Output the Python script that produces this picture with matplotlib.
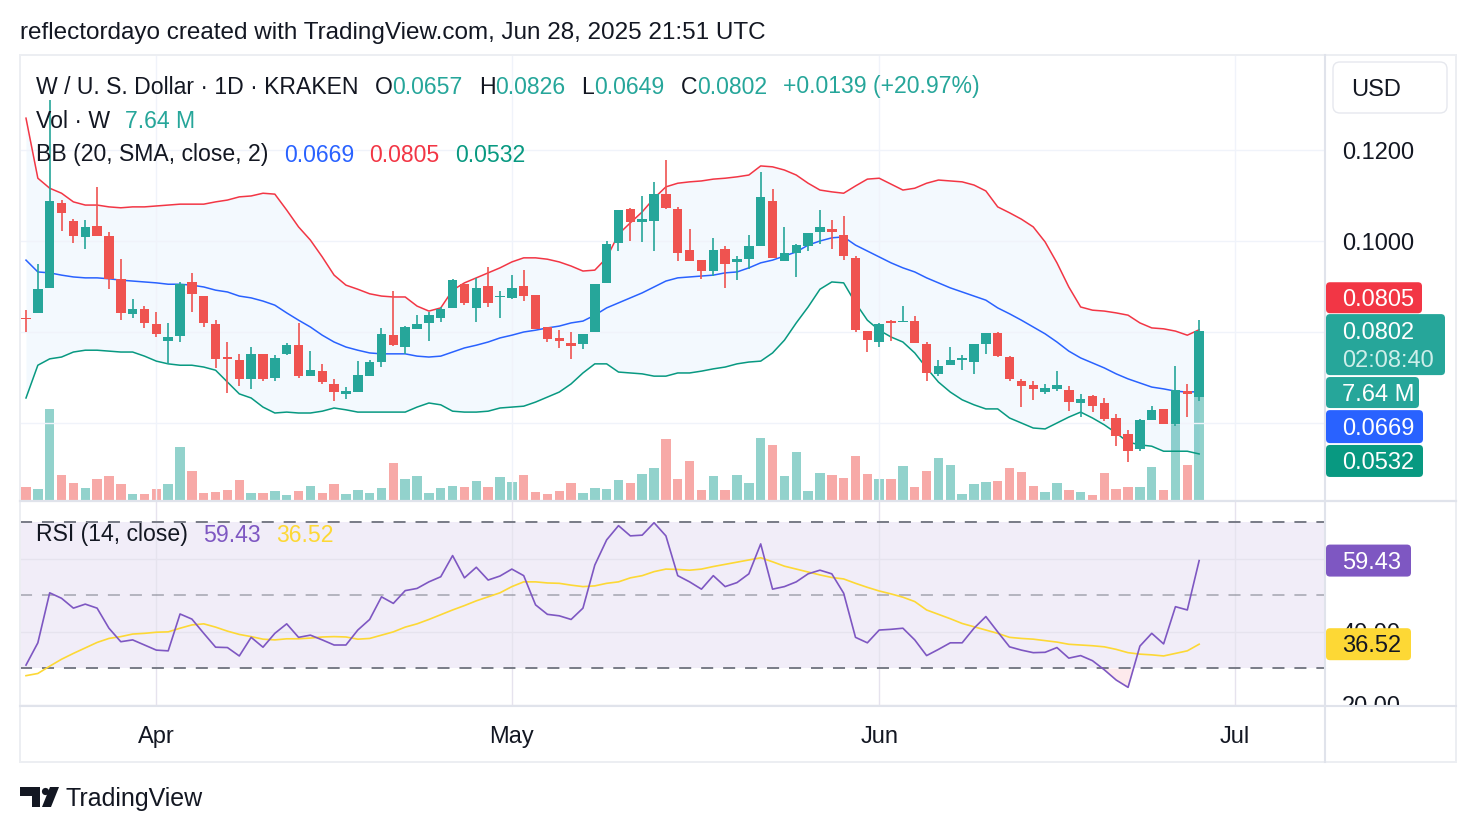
import numpy as np
import pandas as pd
import matplotlib
matplotlib.use('Agg')
import matplotlib.pyplot as plt
import matplotlib.dates as mdates
from matplotlib.patches import FancyBboxPatch, Polygon, Circle
from matplotlib.lines import Line2D
from matplotlib.transforms import IdentityTransform, Bbox

# W / USD daily candles, Kraken
dates = pd.date_range('2025-03-21', '2025-06-28', freq='D')

opens = np.array([0.0830, 0.0842, 0.0897, 0.1083, 0.1044, 0.1008, 0.1033, 0.1012, 0.0916, 0.0840,
    0.0851, 0.0818, 0.0781, 0.0792, 0.0911, 0.0879, 0.0818, 0.0744, 0.0739, 0.0697,
    0.0751, 0.0700, 0.0751, 0.0771, 0.0704, 0.0714, 0.0686, 0.0664, 0.0669, 0.0704,
    0.0735, 0.0793, 0.0766, 0.0807, 0.0820, 0.0830, 0.0853, 0.0906, 0.0853, 0.0901,
    0.0876, 0.0874, 0.0901, 0.0881, 0.0810, 0.0786, 0.0775, 0.0773, 0.0799, 0.0907,
    0.0995, 0.1070, 0.1042, 0.1045, 0.1103, 0.1070, 0.0980, 0.0958, 0.0935, 0.0982,
    0.0953, 0.0960, 0.0988, 0.1088, 0.0957, 0.0973, 0.0990, 0.1020, 0.1026, 0.1013,
    0.0963, 0.0802, 0.0779, 0.0825, 0.0821, 0.0824, 0.0774, 0.0708, 0.0728, 0.0739,
    0.0735, 0.0773, 0.0797, 0.0746, 0.0692, 0.0684, 0.0669, 0.0674, 0.0673, 0.0645,
    0.0659, 0.0643, 0.0610, 0.0576, 0.0543, 0.0607, 0.0631, 0.0598, 0.0670, 0.0657])
highs = np.array([0.0848, 0.0949, 0.1310, 0.1090, 0.1048, 0.1046, 0.1118, 0.1020, 0.0960, 0.0872,
    0.0857, 0.0843, 0.0819, 0.0909, 0.0929, 0.0879, 0.0826, 0.0777, 0.0751, 0.0766,
    0.0751, 0.0749, 0.0775, 0.0819, 0.0758, 0.0730, 0.0696, 0.0680, 0.0736, 0.0739,
    0.0808, 0.0890, 0.0813, 0.0837, 0.0845, 0.0856, 0.0917, 0.0906, 0.0919, 0.0942,
    0.0890, 0.0925, 0.0936, 0.0881, 0.0810, 0.0804, 0.0799, 0.0795, 0.0906, 0.0999,
    0.1068, 0.1073, 0.1099, 0.1129, 0.1178, 0.1074, 0.1026, 0.0958, 0.1007, 0.0988,
    0.0968, 0.1013, 0.1152, 0.1114, 0.1031, 0.0993, 0.1017, 0.1068, 0.1046, 0.1055,
    0.0966, 0.0802, 0.0819, 0.0826, 0.0857, 0.0835, 0.0777, 0.0739, 0.0766, 0.0750,
    0.0774, 0.0797, 0.0799, 0.0747, 0.0697, 0.0692, 0.0686, 0.0714, 0.0681, 0.0664,
    0.0662, 0.0654, 0.0620, 0.0585, 0.0608, 0.0637, 0.0631, 0.0725, 0.0686, 0.0826])
lows = np.array([0.0801, 0.0842, 0.0897, 0.1023, 0.0996, 0.0982, 0.1011, 0.0894, 0.0826, 0.0830,
    0.0808, 0.0790, 0.0730, 0.0777, 0.0845, 0.0812, 0.0722, 0.0667, 0.0682, 0.0674,
    0.0693, 0.0693, 0.0749, 0.0700, 0.0704, 0.0686, 0.0649, 0.0652, 0.0669, 0.0704,
    0.0724, 0.0769, 0.0752, 0.0807, 0.0781, 0.0823, 0.0853, 0.0859, 0.0823, 0.0856,
    0.0830, 0.0872, 0.0869, 0.0807, 0.0777, 0.0764, 0.0740, 0.0762, 0.0799, 0.0907,
    0.0977, 0.1001, 0.0997, 0.0977, 0.1070, 0.0955, 0.0957, 0.0916, 0.0924, 0.0897,
    0.0914, 0.0939, 0.0988, 0.0962, 0.0957, 0.0920, 0.0979, 0.0993, 0.0982, 0.0958,
    0.0799, 0.0755, 0.0768, 0.0781, 0.0821, 0.0775, 0.0693, 0.0704, 0.0728, 0.0717,
    0.0708, 0.0752, 0.0744, 0.0693, 0.0636, 0.0651, 0.0664, 0.0671, 0.0627, 0.0614,
    0.0625, 0.0605, 0.0550, 0.0515, 0.0539, 0.0607, 0.0597, 0.0594, 0.0614, 0.0649])
closes = np.array([0.0828, 0.0894, 0.1088, 0.1062, 0.1012, 0.1030, 0.1012, 0.0916, 0.0842, 0.0851,
    0.0820, 0.0795, 0.0789, 0.0905, 0.0883, 0.0819, 0.0740, 0.0741, 0.0696, 0.0751,
    0.0696, 0.0743, 0.0771, 0.0703, 0.0717, 0.0691, 0.0669, 0.0670, 0.0706, 0.0733,
    0.0796, 0.0771, 0.0810, 0.0817, 0.0837, 0.0851, 0.0914, 0.0863, 0.0896, 0.0864,
    0.0879, 0.0896, 0.0879, 0.0807, 0.0784, 0.0781, 0.0770, 0.0795, 0.0906, 0.0993,
    0.1068, 0.1041, 0.1048, 0.1103, 0.1073, 0.0973, 0.0957, 0.0935, 0.0980, 0.0949,
    0.0960, 0.0988, 0.1097, 0.0962, 0.0973, 0.0991, 0.1017, 0.1031, 0.1019, 0.0968,
    0.0804, 0.0782, 0.0817, 0.0820, 0.0825, 0.0775, 0.0709, 0.0725, 0.0739, 0.0742,
    0.0774, 0.0797, 0.0748, 0.0696, 0.0682, 0.0674, 0.0676, 0.0684, 0.0647, 0.0652,
    0.0638, 0.0609, 0.0572, 0.0539, 0.0607, 0.0629, 0.0597, 0.0673, 0.0663, 0.0802])
# volume in millions of W
volume = np.array([0.98, 0.81, 6.67, 1.84, 1.23, 0.91, 1.54, 1.76, 1.18, 0.42,
    0.44, 0.81, 1.18, 3.87, 2.13, 0.54, 0.61, 0.74, 1.47, 0.49,
    0.49, 0.66, 0.37, 0.66, 1.03, 0.49, 1.18, 0.44, 0.74, 0.49,
    0.90, 2.74, 1.57, 1.76, 0.49, 0.90, 1.03, 0.98, 1.40, 0.98,
    1.67, 1.35, 1.84, 0.61, 0.44, 0.68, 1.27, 0.54, 0.90, 0.83,
    1.47, 1.27, 1.91, 2.38, 4.48, 1.54, 2.87, 0.74, 1.76, 0.74,
    1.84, 1.23, 4.58, 4.04, 1.76, 3.55, 0.66, 1.96, 1.84, 1.64,
    3.23, 1.91, 1.54, 1.54, 2.50, 0.98, 2.13, 3.09, 2.57, 0.42,
    1.18, 1.32, 1.40, 2.38, 2.06, 1.03, 0.59, 1.23, 0.74, 0.59,
    0.37, 1.96, 0.81, 0.96, 0.96, 2.43, 0.74, 5.70, 2.57, 7.64])

# Bollinger bands (20, SMA, close, 2) as shown on the chart
bb_upper = np.array([0.1270, 0.1138, 0.1116, 0.1105, 0.1086, 0.1079, 0.1079, 0.1075, 0.1073, 0.1075,
    0.1075, 0.1077, 0.1079, 0.1081, 0.1081, 0.1081, 0.1086, 0.1090, 0.1097, 0.1099,
    0.1105, 0.1103, 0.1068, 0.1031, 0.1002, 0.0965, 0.0925, 0.0903, 0.0894, 0.0884,
    0.0879, 0.0877, 0.0877, 0.0857, 0.0846, 0.0853, 0.0892, 0.0908, 0.0919, 0.0930,
    0.0941, 0.0954, 0.0963, 0.0963, 0.0960, 0.0954, 0.0945, 0.0934, 0.0936, 0.0963,
    0.1015, 0.1040, 0.1064, 0.1094, 0.1119, 0.1127, 0.1130, 0.1132, 0.1136, 0.1138,
    0.1141, 0.1145, 0.1165, 0.1163, 0.1156, 0.1145, 0.1127, 0.1112, 0.1108, 0.1105,
    0.1121, 0.1136, 0.1138, 0.1125, 0.1112, 0.1116, 0.1127, 0.1134, 0.1132, 0.1130,
    0.1123, 0.1110, 0.1075, 0.1062, 0.1048, 0.1031, 0.0998, 0.0952, 0.0899, 0.0855,
    0.0848, 0.0846, 0.0842, 0.0837, 0.0820, 0.0809, 0.0807, 0.0802, 0.0793, 0.0805])
bb_basis = np.array([0.0958, 0.0932, 0.0930, 0.0925, 0.0921, 0.0919, 0.0919, 0.0917, 0.0914, 0.0912,
    0.0910, 0.0908, 0.0905, 0.0905, 0.0903, 0.0899, 0.0892, 0.0888, 0.0879, 0.0875,
    0.0868, 0.0859, 0.0842, 0.0826, 0.0811, 0.0793, 0.0778, 0.0767, 0.0760, 0.0754,
    0.0752, 0.0752, 0.0752, 0.0747, 0.0745, 0.0747, 0.0756, 0.0765, 0.0771, 0.0778,
    0.0787, 0.0793, 0.0800, 0.0804, 0.0809, 0.0813, 0.0820, 0.0824, 0.0837, 0.0853,
    0.0864, 0.0875, 0.0886, 0.0899, 0.0912, 0.0919, 0.0921, 0.0923, 0.0925, 0.0930,
    0.0932, 0.0941, 0.0952, 0.0958, 0.0967, 0.0976, 0.0991, 0.1000, 0.1007, 0.1009,
    0.0991, 0.0978, 0.0965, 0.0952, 0.0941, 0.0932, 0.0919, 0.0908, 0.0897, 0.0888,
    0.0879, 0.0870, 0.0853, 0.0840, 0.0826, 0.0811, 0.0796, 0.0778, 0.0758, 0.0743,
    0.0732, 0.0721, 0.0708, 0.0697, 0.0688, 0.0679, 0.0675, 0.0670, 0.0668, 0.0669])
bb_lower = np.array([0.0655, 0.0727, 0.0741, 0.0745, 0.0756, 0.0760, 0.0760, 0.0758, 0.0756, 0.0756,
    0.0747, 0.0736, 0.0730, 0.0727, 0.0727, 0.0723, 0.0716, 0.0690, 0.0664, 0.0655,
    0.0635, 0.0622, 0.0624, 0.0622, 0.0622, 0.0626, 0.0633, 0.0629, 0.0624, 0.0624,
    0.0624, 0.0624, 0.0624, 0.0635, 0.0644, 0.0640, 0.0626, 0.0624, 0.0624, 0.0626,
    0.0633, 0.0635, 0.0637, 0.0646, 0.0657, 0.0668, 0.0686, 0.0710, 0.0730, 0.0730,
    0.0712, 0.0710, 0.0708, 0.0703, 0.0703, 0.0710, 0.0710, 0.0714, 0.0719, 0.0723,
    0.0730, 0.0734, 0.0736, 0.0754, 0.0782, 0.0820, 0.0855, 0.0894, 0.0910, 0.0908,
    0.0864, 0.0826, 0.0804, 0.0789, 0.0778, 0.0754, 0.0721, 0.0690, 0.0668, 0.0651,
    0.0640, 0.0631, 0.0631, 0.0611, 0.0600, 0.0589, 0.0587, 0.0600, 0.0613, 0.0624,
    0.0611, 0.0596, 0.0578, 0.0558, 0.0552, 0.0549, 0.0538, 0.0538, 0.0538, 0.0532])

# RSI (14, close) and its moving average
rsi = np.array([30.8, 36.9, 50.6, 49.1, 46.4, 47.5, 46.4, 40.9, 37.2, 37.7,
    36.3, 34.9, 34.7, 44.8, 43.4, 39.5, 35.7, 35.6, 33.3, 38.4,
    35.7, 39.5, 42.1, 38.4, 39.0, 37.7, 36.3, 36.3, 40.4, 43.3,
    49.5, 47.7, 51.2, 51.8, 53.6, 55.0, 60.8, 54.7, 57.6, 54.1,
    55.2, 57.1, 55.3, 47.3, 44.7, 44.3, 43.3, 46.4, 58.2, 65.1,
    69.0, 66.2, 66.4, 69.8, 66.2, 55.3, 53.6, 51.6, 55.3, 52.3,
    53.4, 55.8, 64.0, 51.6, 52.3, 53.6, 55.8, 56.8, 55.8, 50.5,
    38.4, 36.9, 40.4, 40.6, 40.9, 37.7, 33.4, 35.1, 36.9, 36.9,
    40.9, 44.1, 39.9, 35.8, 34.9, 34.2, 34.3, 35.6, 32.7, 33.4,
    32.0, 29.5, 26.7, 24.7, 36.0, 39.5, 36.6, 46.8, 45.9, 59.43])
rsi_ma = np.array([27.9, 28.5, 30.5, 32.4, 34.0, 35.5, 37.0, 38.1, 38.6, 39.3,
    39.5, 39.8, 39.9, 40.9, 41.8, 42.1, 41.2, 40.1, 39.2, 38.6,
    37.9, 37.7, 38.0, 38.0, 38.2, 38.5, 38.6, 38.5, 37.9, 38.1,
    39.0, 39.9, 41.2, 42.1, 43.3, 44.6, 45.9, 47.1, 48.4, 49.5,
    50.6, 52.3, 53.6, 53.6, 53.3, 53.2, 52.7, 52.3, 52.5, 53.2,
    53.6, 54.7, 55.3, 56.4, 57.1, 57.0, 56.8, 57.1, 57.8, 58.4,
    59.0, 59.6, 60.2, 59.1, 57.9, 57.1, 56.3, 55.5, 54.8, 54.4,
    53.2, 52.1, 51.1, 50.3, 49.4, 48.2, 45.9, 44.7, 43.5, 42.2,
    41.3, 40.4, 39.5, 38.4, 38.1, 37.9, 37.5, 37.1, 36.5, 36.3,
    36.1, 35.8, 35.1, 34.2, 33.8, 33.6, 33.3, 34.0, 34.7, 36.52])

month_ticks = pd.to_datetime(['2025-04-01', '2025-05-01', '2025-06-01', '2025-07-01'])
month_labels = ['Apr', 'May', 'Jun', 'Jul']

UP, DOWN = '#26a69a', '#ef5350'
DARK = '#131722'
W, H = 1476, 832
PX = IdentityTransform()

plt.rcParams['font.family'] = ['Liberation Sans', 'DejaVu Sans']
fig = plt.figure(figsize=(W / 100, H / 100), dpi=100)
fig.patch.set_facecolor('white')


def rect(x, y, w, h):
    # pixel box measured from the top-left corner -> figure fraction
    return [x / W, 1 - (y + h) / H, w / W, h / H]


ax_vol = fig.add_axes(rect(20, 55, 1305, 445))
ax = fig.add_axes(rect(20, 55, 1305, 445))
ax_rsi = fig.add_axes(rect(20, 502, 1305, 204))

x = mdates.date2num(dates)
mx = mdates.date2num(month_ticks)
xlim = (x[0] - 0.506, x[0] + 109.62)
up = closes >= opens
colors = [UP if u else DOWN for u in up]

# volume underneath
ax_vol.bar(x, volume, width=0.8, color=['#92d2cc' if u else '#f7a9a7' for u in up], linewidth=0)
ax_vol.set_xlim(xlim)
ax_vol.set_ylim(0, 32.7)
ax_vol.axis('off')

# price pane
ax.set_facecolor('none')
ax.fill_between(x, bb_lower, bb_upper, color='#2196f3', alpha=0.05, lw=0)
ax.plot(x, bb_upper, color='#f23645', lw=1.1)
ax.plot(x, bb_basis, color='#2962ff', lw=1.1)
ax.plot(x, bb_lower, color='#089981', lw=1.1)
ax.vlines(x, lows, highs, colors=colors, lw=1.2, zorder=3)
body_h = np.maximum(np.abs(closes - opens), 0.00025)
ax.bar(x, body_h, bottom=np.minimum(opens, closes), width=0.8, color=colors, lw=0, zorder=4)
ax.set_xlim(xlim)
ax.set_ylim(0.04308, 0.14088)
ax.set_xticks(mx)
ax.set_yticks([0.06, 0.08, 0.10, 0.12])
ax.set_yticklabels(['', '', '0.1000', '0.1200'])
ax.yaxis.tick_right()
ax.tick_params(axis='y', length=0, pad=12, labelsize=17, labelcolor=DARK)
ax.tick_params(axis='x', length=0, labelbottom=False)
ax.grid(True, color='#f0f3fa', lw=1.0)
ax.set_axisbelow('line')
for s in ax.spines.values():
    s.set_visible(False)

# RSI pane
ax_rsi.axhspan(30, 70, color='#7e57c2', alpha=0.1, lw=0)
ax_rsi.fill_between(x, rsi, 30, where=rsi < 30, interpolate=True, color='#f23645', alpha=0.1, lw=0)
ax_rsi.axhline(70, color='#787b86', lw=1.4, ls=(0, (6.2, 5.1)))
ax_rsi.axhline(50, color='#787b86', alpha=0.5, lw=1.4, ls=(0, (6.2, 5.1)))
ax_rsi.axhline(30, color='#787b86', lw=1.4, ls=(0, (6.2, 5.1)))
ax_rsi.plot(x, rsi_ma, color='#fdd835', lw=1.2)
ax_rsi.plot(x, rsi, color='#7e57c2', lw=1.2)
ax_rsi.set_xlim(xlim)
ax_rsi.set_ylim(19.59, 75.48)
ax_rsi.set_xticks(mx)
ax_rsi.set_xticklabels(month_labels)
ax_rsi.set_yticks([20, 40, 60])
ax_rsi.set_yticklabels(['20.00', '40.00', '60.00'])
ax_rsi.yaxis.tick_right()
ax_rsi.tick_params(axis='y', length=0, pad=12, labelsize=17, labelcolor=DARK)
ax_rsi.tick_params(axis='x', length=0, pad=14.5, labelsize=17, labelcolor=DARK)
ax_rsi.grid(True, color='#e6e3ee', lw=1.0)
ax_rsi.set_axisbelow('line')
for s in ax_rsi.spines.values():
    s.set_visible(False)
clip = Bbox.from_extents(1325, H - 706, W, H - 502)
for lbl in ax_rsi.get_yticklabels():
    lbl.set_clip_on(True)
    lbl.set_clip_box(clip)


# frame and separators
def line_px(xs, ys, color, lw):
    fig.add_artist(Line2D(xs, [H - v for v in ys], transform=PX, color=color, lw=lw))


line_px([20, 1456], [55, 55], '#eceef2', 1.4)
line_px([20, 1456], [762, 762], '#eceef2', 1.4)
line_px([20, 20], [55, 762], '#eceef2', 1.4)
line_px([1456, 1456], [55, 762], '#eceef2', 1.4)
line_px([1325, 1325], [55, 762], '#e0e3eb', 1.5)
line_px([20, 1456], [501, 501], '#e0e3eb', 1.6)
line_px([20, 1456], [706, 706], '#e0e3eb', 1.5)


def put(xp, yp, s, color=DARK, size=17, **kw):
    # va='center' sits ~2 px high for this font, nudge down
    return fig.text(xp / W, 1 - (yp + 2) / H, s, color=color, fontsize=size, va='center', ha='left', **kw)


renderer = fig.canvas.get_renderer()


def put_row(xp, yp, parts, size=16.6):
    for s, c, gap in parts:
        t = put(xp, yp, s, c, size)
        xp += t.get_window_extent(renderer).width + gap


def data_y(axis, v):
    return H - axis.transData.transform((x[0], v))[1]


def tag(yc, w, h, face, rows):
    fig.add_artist(FancyBboxPatch((1326, H - yc - h / 2), w, h, boxstyle='round,pad=0,rounding_size=4',
                                  transform=PX, fc=face, ec='none', zorder=2))
    for s, c, yy in rows:
        put(1342, yy, s, c)


put(20, 31, 'reflectordayo created with TradingView.com, Jun 28, 2025 21:51 UTC', size=17.5)

TEAL = '#26a69a'
chg = closes[-1] - closes[-2]
pct = chg / closes[-2] * 100
put_row(36, 85, [('W / U. S. Dollar · 1D · KRAKEN', DARK, 16),
                 ('O', DARK, 0), (f'{opens[-1]:.4f}', TEAL, 16),
                 ('H', DARK, 0), (f'{highs[-1]:.4f}', TEAL, 16),
                 ('L', DARK, 0), (f'{lows[-1]:.4f}', TEAL, 16),
                 ('C', DARK, 0), (f'{closes[-1]:.4f}', TEAL, 16),
                 (f'{chg:+.4f} ({pct:+.2f}%)', TEAL, 0)])
put_row(36, 119, [('Vol · W', DARK, 15), (f'{volume[-1]:.2f} M', TEAL, 0)])
put_row(36, 153, [('BB (20, SMA, close, 2)', DARK, 16), (f'{bb_basis[-1]:.4f}', '#2962ff', 15),
                  (f'{bb_upper[-1]:.4f}', '#f23645', 15), (f'{bb_lower[-1]:.4f}', '#089981', 0)])
put_row(36, 533, [('RSI (14, close)', DARK, 15), (f'{rsi[-1]:.2f}', '#7e57c2', 16),
                  (f'{rsi_ma[-1]:.2f}', '#fdd835', 0)])

# price scale tags (stacked like TradingView does)
fig.add_artist(FancyBboxPatch((1333, H - 113), 114, 51, boxstyle='round,pad=0,rounding_size=7',
                              transform=PX, fc='white', ec='#e6e8ee', lw=1.0))
put(1351, 88, 'USD')

yu = data_y(ax, bb_upper[-1])
tag(yu - 32, 96, 31, '#f23645', [(f'{bb_upper[-1]:.4f}', 'white', yu - 32)])
yc = data_y(ax, closes[-1])
tag(yc + 13.5, 119, 61, TEAL, [(f'{closes[-1]:.4f}', 'white', yc), ('02:08:40', '#cdeeea', yc + 28)])
yv = data_y(ax_vol, volume[-1])
tag(yv - 3.5, 93, 31, TEAL, [(f'{volume[-1]:.2f} M', 'white', yv - 3.5)])
yb = data_y(ax, bb_basis[-1])
tag(yb + 35, 97, 33, '#2962ff', [(f'{bb_basis[-1]:.4f}', 'white', yb + 35)])
yl = data_y(ax, bb_lower[-1])
tag(yl + 7, 97, 32, '#089981', [(f'{bb_lower[-1]:.4f}', 'white', yl + 7)])
yr = data_y(ax_rsi, rsi[-1])
tag(yr, 85, 32, '#7e57c2', [(f'{rsi[-1]:.2f}', 'white', yr)])
ym = data_y(ax_rsi, rsi_ma[-1])
tag(ym, 85, 32, '#fdd835', [(f'{rsi_ma[-1]:.2f}', DARK, ym)])

# TradingView footer logo
fig.add_artist(Polygon([(20, H - 787), (40, H - 787), (40, H - 807), (32, H - 807), (32, H - 796), (20, H - 796)],
                       closed=True, transform=PX, fc=DARK, ec='none'))
fig.add_artist(Circle((45.5, H - 791.5), 3.6, transform=PX, fc=DARK, ec='none'))
fig.add_artist(Polygon([(50, H - 787), (59, H - 787), (51, H - 807), (42, H - 807)],
                       closed=True, transform=PX, fc=DARK, ec='none'))
put(66, 797, 'TradingView', size=18)

fig.savefig('out.png', dpi=100, facecolor='white')
